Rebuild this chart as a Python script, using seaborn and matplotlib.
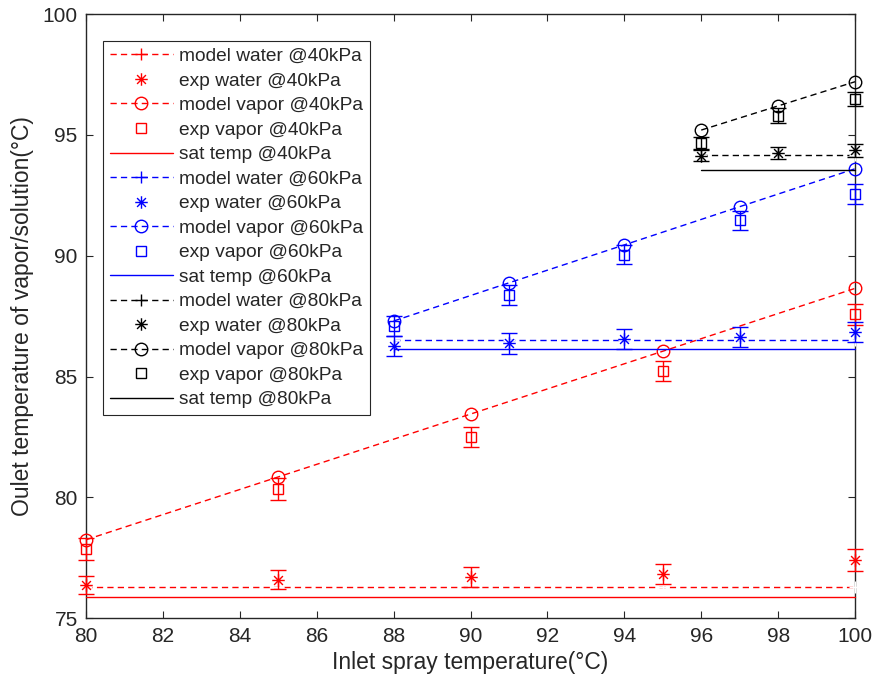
import numpy as np
import matplotlib
matplotlib.use("Agg")
import matplotlib.pyplot as plt
from matplotlib.path import Path
from matplotlib.lines import Line2D
import seaborn as sns

# Inlet spray temperatures (°C) for each pressure
x40 = [80, 85, 90, 95, 100]
x60 = [88, 91, 94, 97, 100]
x80 = [96, 98, 100]

# 40 kPa
model_water_40 = [76.3, 76.3, 76.3, 76.3, 76.3]
exp_water_40 = [76.38, 76.6, 76.71, 76.83, 77.41]
err_water_40 = [0.38, 0.4, 0.4, 0.42, 0.44]
model_vapor_40 = [78.25, 80.85, 83.45, 86.05, 88.65]
exp_vapor_40 = [77.86, 80.35, 82.5, 85.23, 87.57]
err_vapor_40 = [0.45, 0.45, 0.4, 0.42, 0.42]
sat_40 = [75.87, 75.87]

# 60 kPa
model_water_60 = [86.5, 86.5, 86.5, 86.5, 86.5]
exp_water_60 = [86.27, 86.37, 86.56, 86.65, 86.85]
err_water_60 = [0.4, 0.42, 0.43, 0.41, 0.41]
model_vapor_60 = [87.3, 88.88, 90.45, 92.03, 93.6]
exp_vapor_60 = [87.1, 88.37, 90.04, 91.46, 92.57]
err_vapor_60 = [0.4, 0.4, 0.4, 0.4, 0.41]
sat_60 = [86.14, 86.14]

# 80 kPa
model_water_80 = [94.18, 94.18, 94.18]
exp_water_80 = [94.14, 94.24, 94.36]
err_water_80 = [0.22, 0.25, 0.28]
model_vapor_80 = [95.2, 96.2, 97.2]
exp_vapor_80 = [94.66, 95.8, 96.48]
err_vapor_80 = [0.25, 0.3, 0.3]
sat_80 = [93.53, 93.53]

x_ticks = [80, 82, 84, 86, 88, 90, 92, 94, 96, 98, 100]
y_ticks = [75, 80, 85, 90, 95, 100]

sns.set_style("ticks")
plt.rcParams["font.family"] = ["Liberation Sans", "DejaVu Sans"]
axis_gray = "#262626"

# asterisk marker: horizontal, vertical and two diagonal strokes
d = 0.707
asterisk = Path(
    [(-1, 0), (1, 0), (0, -1), (0, 1), (-d, -d), (d, d), (-d, d), (d, -d)],
    [Path.MOVETO, Path.LINETO] * 4,
)

dash = (0, (4.5, 3))
lw = 1.0

fig = plt.figure(figsize=(8.74, 6.89), dpi=100)
ax = fig.add_axes([0.0984, 0.1026, 0.8799, 0.877])

groups = [
    ("40kPa", "red", x40, model_water_40, exp_water_40, err_water_40,
     model_vapor_40, exp_vapor_40, err_vapor_40, sat_40),
    ("60kPa", "blue", x60, model_water_60, exp_water_60, err_water_60,
     model_vapor_60, exp_vapor_60, err_vapor_60, sat_60),
    ("80kPa", "black", x80, model_water_80, exp_water_80, err_water_80,
     model_vapor_80, exp_vapor_80, err_vapor_80, sat_80),
]

handles, labels = [], []
for (p, c, xs, mw, ew, eew, mv, ev, eev, sat) in groups:
    sns.lineplot(x=xs, y=mw, ax=ax, color=c, linestyle=dash, lw=lw,
                 marker="+", markersize=9, markeredgewidth=1.0,
                 errorbar=None, legend=False)
    ax.errorbar(xs, ew, yerr=eew, fmt="none", ecolor=c, elinewidth=lw,
                capsize=6, capthick=lw)
    ax.plot(xs, ew, linestyle="none", marker=asterisk, markersize=9,
            markeredgecolor=c, markerfacecolor="none", markeredgewidth=1.0)
    sns.lineplot(x=xs, y=mv, ax=ax, color=c, linestyle=dash, lw=lw,
                 marker="o", markersize=9, markerfacecolor="none",
                 markeredgecolor=c, markeredgewidth=1.0,
                 errorbar=None, legend=False)
    ax.errorbar(xs, ev, yerr=eev, fmt="s", color=c, ecolor=c,
                elinewidth=lw, capsize=6, capthick=lw, markersize=7,
                markerfacecolor="none", markeredgecolor=c,
                markeredgewidth=1.0)
    sns.lineplot(x=[xs[0], xs[-1]], y=sat, ax=ax, color=c, linestyle="-",
                 lw=lw, errorbar=None, legend=False)

    handles += [
        Line2D([], [], color=c, linestyle=dash, lw=lw, marker="+",
               markersize=9, markeredgewidth=1.0),
        Line2D([], [], color=c, linestyle="none", marker=asterisk,
               markersize=9, markerfacecolor="none", markeredgewidth=1.0),
        Line2D([], [], color=c, linestyle=dash, lw=lw, marker="o",
               markersize=9, markerfacecolor="none", markeredgewidth=1.0),
        Line2D([], [], color=c, linestyle="none", marker="s",
               markersize=7, markerfacecolor="none", markeredgewidth=1.0),
        Line2D([], [], color=c, linestyle="-", lw=lw),
    ]
    labels += [f"model water @{p}", f"exp water @{p}", f"model vapor @{p}",
               f"exp vapor @{p}", f"sat temp @{p}"]

# markers sitting on the frame are drawn in full
for art in list(ax.lines) + list(ax.collections):
    art.set_clip_on(False)

ax.set_xlim(80, 100)
ax.set_ylim(75, 100)
ax.set_xticks(x_ticks)
ax.set_yticks(y_ticks)
ax.tick_params(direction="in", top=True, right=True, length=5, width=0.8,
               color=axis_gray, labelcolor=axis_gray, labelsize=15, pad=6)
for s in ax.spines.values():
    s.set_visible(True)
    s.set_color(axis_gray)
    s.set_linewidth(1.0)
    s.set_zorder(1)

ax.set_xlabel("Inlet spray temperature(°C)", fontsize=16.5, color=axis_gray,
              labelpad=4)
ax.set_ylabel("Oulet temperature of vapor/solution(°C)", fontsize=16.5,
              color=axis_gray, labelpad=6)

leg = ax.legend(handles, labels, loc="upper left",
                bbox_to_anchor=(0.0221, 0.9553), borderaxespad=0,
                fontsize=13.8, frameon=True, fancybox=False, shadow=False,
                handlelength=3.3, handletextpad=0.3, labelspacing=0.37,
                borderpad=0.35, framealpha=1)
leg.get_frame().set_edgecolor(axis_gray)
leg.get_frame().set_linewidth(0.8)
for t in leg.get_texts():
    t.set_color(axis_gray)

fig.savefig("out.png", dpi=100)
